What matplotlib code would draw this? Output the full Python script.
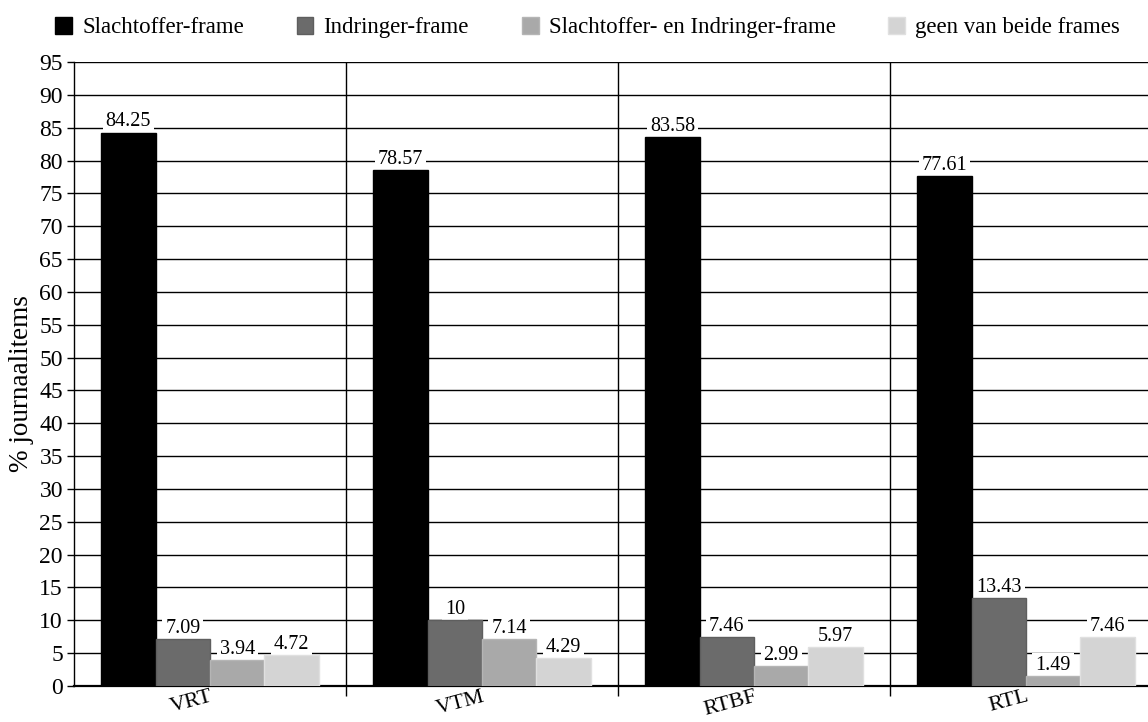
import matplotlib
matplotlib.use("Agg")
import matplotlib.pyplot as plt
import numpy as np

categories = ["VRT", "VTM", "RTBF", "RTL"]
series_names = ["Slachtoffer-frame", "Indringer-frame",
                "Slachtoffer- en Indringer-frame", "geen van beide frames"]
slachtoffer = [84.25, 78.57, 83.58, 77.61]
indringer = [7.09, 10, 7.46, 13.43]
beide = [3.94, 7.14, 2.99, 1.49]
geen = [4.72, 4.29, 5.97, 7.46]
value_labels = [
    ["84.25", "78.57", "83.58", "77.61"],
    ["7.09", "10", "7.46", "13.43"],
    ["3.94", "7.14", "2.99", "1.49"],
    ["4.72", "4.29", "5.97", "7.46"],
]
yticks = list(range(0, 96, 5))

colors = ["#000000", "#6b6b6b", "#a9a9a9", "#d4d4d4"]
edges = ["#000000", "#5e5e5e", "#b5b5b5", "#e0e0e0"]

plt.rcParams['font.family'] = ['Liberation Serif', 'DejaVu Serif']

fig = plt.figure(figsize=(11.48, 7.22), dpi=100)
ax = fig.add_axes([74/1148, 36/722, 1088/1148, 624/722])

x = np.arange(len(categories))
w = 0.2
all_series = [slachtoffer, indringer, beide, geen]
for i, (vals, c, ec, name) in enumerate(zip(all_series, colors, edges, series_names)):
    pos = x - 0.3 + i * w
    bars = ax.bar(pos, vals, width=w, color=c, edgecolor=ec, linewidth=1, label=name, zorder=3)
    for b, lab in zip(bars, value_labels[i]):
        ax.annotate(lab, (b.get_x() + b.get_width() / 2, b.get_height()),
                    xytext=(0, 4.5), textcoords="offset points",
                    ha="center", va="baseline", fontsize=14.5, zorder=2.5,
                    bbox=dict(boxstyle="square,pad=0.15", fc="white", ec="none"))

ax.set_xlim(-0.5, 3.5)
ax.set_ylim(0, 95)
ax.set_yticks(yticks)
ax.tick_params(axis='y', labelsize=17, length=5, width=1, direction='out', pad=3)
ax.yaxis.grid(True, color='black', linewidth=1, zorder=0)

ax.set_xticks(x)
ax.set_xticklabels(categories, rotation=15, ha='right', rotation_mode='anchor', fontsize=16)
ax.tick_params(axis='x', which='major', length=0, pad=1)
ax.set_xticks([0.5, 1.5, 2.5], minor=True)
ax.tick_params(axis='x', which='minor', length=7, width=1, direction='out')
ax.xaxis.grid(True, which='minor', color='black', linewidth=1, zorder=0)
ax.set_axisbelow(True)

for s in ['top', 'right']:
    ax.spines[s].set_visible(False)
ax.spines['left'].set_linewidth(1)
ax.spines['bottom'].set_linewidth(1.6)

ax.set_ylabel("% journaalitems", fontsize=19.5)
ax.yaxis.set_label_coords(-0.037, 0.484)

leg = fig.legend(loc='upper left', bbox_to_anchor=(55/1148, 1 - 17/722), ncol=4, frameon=False,
                 fontsize=16.5, handlelength=0.74, handleheight=0.74, handletextpad=0.44,
                 columnspacing=2.3, borderpad=0, borderaxespad=0)

fig.savefig("out.png", dpi=100)
